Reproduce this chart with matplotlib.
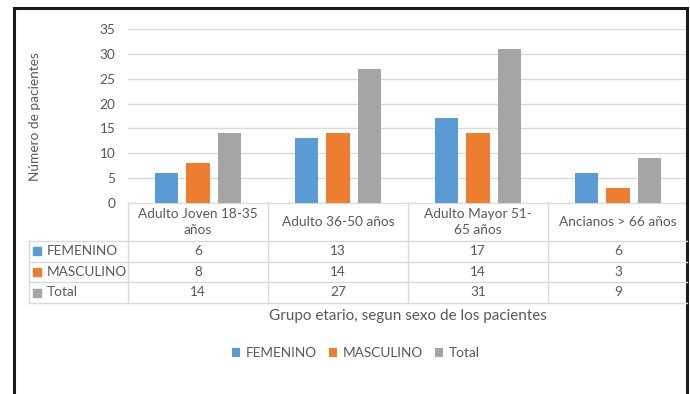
import matplotlib.pyplot as plt
import matplotlib.transforms as mtransforms
from matplotlib.patches import Rectangle
import numpy as np

# data
categories = ["Adulto Joven 18-35\naños", "Adulto 36-50 años", "Adulto Mayor 51-\n65 años", "Ancianos > 66 años"]
series_names = ["FEMENINO", "MASCULINO", "Total"]
femenino = [6, 13, 17, 6]
masculino = [8, 14, 14, 3]
total = [14, 27, 31, 9]
yticks = [0, 5, 10, 15, 20, 25, 30, 35]

colors = ["#5B9BD5", "#ED7D31", "#A5A5A5"]
txt = "#595959"
grid = "#d9d9d9"
plt.rcParams['font.family'] = ['Lato', 'DejaVu Sans']
fs = 9.8

W, H = 690, 394
fig = plt.figure(figsize=(W / 100, H / 100), dpi=100)

def fx(px):
    return px / W

def fy(py):
    return 1 - py / H

ax = fig.add_axes([fx(128), fy(203), fx(688) - fx(128), fy(29) - fy(203)])
x = np.arange(len(categories))
series = [femenino, masculino, total]
width = 0.17
step = 0.225
for i, vals in enumerate(series):
    ax.bar(x + (i - 1) * step, vals, width, color=colors[i], zorder=3, label=series_names[i])

ax.set_xlim(-0.5, len(categories) - 0.5)
ax.set_ylim(0, 35)
ax.set_yticks(yticks)
ax.set_yticklabels([str(t) for t in yticks], color=txt, fontsize=fs)
ax.tick_params(axis='y', length=0, pad=9)
ax.set_xticks([])
ax.grid(axis='y', color=grid, linewidth=1, zorder=0)
for s in ["top", "right", "left"]:
    ax.spines[s].set_visible(False)
ax.spines["bottom"].set_color(grid)

fig.text(fx(35), fy(117), "Número de pacientes", rotation=90, ha='center', va='center',
         color=txt, fontsize=fs)

# data table under the chart
tr = mtransforms.blended_transform_factory(ax.transData, fig.transFigure)
row_tops = [203, 241, 261.5, 282, 303]
for py in row_tops[1:]:
    fig.add_artist(plt.Line2D([fx(29), fx(687)], [fy(py), fy(py)], color=grid, lw=1))
fig.add_artist(plt.Line2D([fx(29), fx(29)], [fy(241), fy(303)], color=grid, lw=1))
for b in np.arange(len(categories)) - 0.5:
    ax.add_artist(plt.Line2D([b, b], [fy(203), fy(303)], color=grid, lw=1,
                             transform=tr, clip_on=False))

hdr_y = fy((203 + 241) / 2)
for i, c in enumerate(categories):
    ax.text(i, hdr_y, c, transform=tr, ha='center', va='center', color=txt,
            fontsize=fs, linespacing=1.35)

for r, vals in enumerate(series):
    cy = fy((row_tops[r + 1] + row_tops[r + 2]) / 2)
    fig.add_artist(Rectangle((fx(33), cy - 4 / H), 8 / W, 8 / H, color=colors[r],
                             transform=fig.transFigure))
    fig.text(fx(47), cy, series_names[r], ha='left', va='center', color=txt, fontsize=fs)
    for i, v in enumerate(vals):
        ax.text(i, cy, str(v), transform=tr, ha='center', va='center', color=txt, fontsize=fs)

fig.text(fx(408), fy(316), "Grupo etario, segun sexo de los pacientes", ha='center',
         va='center', color=txt, fontsize=11)

leg = fig.legend(loc='center', bbox_to_anchor=(fx(356), fy(353)), ncol=3, frameon=False,
                 fontsize=fs, handlelength=0.6, handleheight=0.6, columnspacing=0.9,
                 handletextpad=0.4)
for t in leg.get_texts():
    t.set_color(txt)

# outer frame
fig.add_artist(Rectangle((fx(14), -0.1), fx(687) - fx(14), fy(8) + 0.1, fill=False,
                         edgecolor="#1a1a1a", lw=2.2, transform=fig.transFigure))

fig.savefig("out.png", dpi=100)
